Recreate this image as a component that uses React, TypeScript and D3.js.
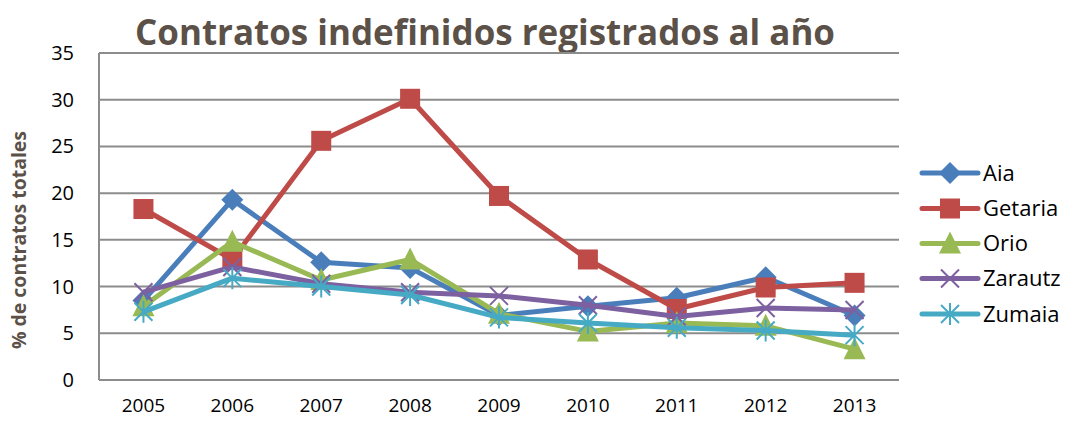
import React from 'react'
import * as d3 from 'd3'

const years = ['2005', '2006', '2007', '2008', '2009', '2010', '2011', '2012', '2013']
const aia = [8.5, 19.3, 12.6, 12.0, 6.9, 7.9, 8.8, 11.0, 6.9]
const getaria = [18.3, 12.9, 25.6, 30.1, 19.7, 12.9, 7.6, 9.9, 10.4]
const orio = [7.9, 14.8, 10.7, 12.9, 7.1, 5.2, 6.1, 5.8, 3.3]
const zarautz = [9.4, 12.1, 10.3, 9.4, 9.0, 8.0, 6.8, 7.7, 7.5]
const zumaia = [7.3, 10.9, 10.0, 9.1, 6.7, 6.1, 5.6, 5.3, 4.8]
const yTicks = [0, 5, 10, 15, 20, 25, 30, 35]

const series = [
  { name: 'Aia', values: aia, color: '#4a7ebb', marker: 'diamond' },
  { name: 'Getaria', values: getaria, color: '#be4b48', marker: 'square' },
  { name: 'Orio', values: orio, color: '#98b954', marker: 'triangle' },
  { name: 'Zarautz', values: zarautz, color: '#7d60a0', marker: 'x' },
  { name: 'Zumaia', values: zumaia, color: '#46aac5', marker: 'star' },
]

const W = 1066
const H = 422
const plot = { left: 99, right: 899, top: 53, bottom: 380 }

function Marker({ type, x, y, color }: { type: string; x: number; y: number; color: string }) {
  if (type === 'diamond') {
    const s = 11
    return <path d={`M${x},${y - s}L${x + s},${y}L${x},${y + s}L${x - s},${y}Z`} fill={color} />
  }
  if (type === 'square') {
    const s = 10
    return <rect x={x - s} y={y - s} width={2 * s} height={2 * s} fill={color} />
  }
  if (type === 'triangle') {
    const s = 11
    return <path d={`M${x},${y - s - 1}L${x + s},${y + s - 1}L${x - s},${y + s - 1}Z`} fill={color} />
  }
  if (type === 'x') {
    const s = 9
    return (
      <path d={`M${x - s},${y - s}L${x + s},${y + s}M${x - s},${y + s}L${x + s},${y - s}`}
        stroke={color} strokeWidth={2} />
    )
  }
  // asterisk
  const s = 9
  return (
    <path
      d={`M${x - s},${y - s}L${x + s},${y + s}M${x - s},${y + s}L${x + s},${y - s}M${x},${y - s - 2}L${x},${y + s + 2}`}
      stroke={color} strokeWidth={2} />
  )
}

export default function App() {
  const x = d3.scalePoint<string>().domain(years).range([plot.left, plot.right]).padding(0.5)
  const y = d3.scaleLinear().domain([0, 35]).range([plot.bottom, plot.top])

  const lineGen = d3.line<number>()
    .x((_, i) => x(years[i])!)
    .y(v => y(v))

  const legendY = [173, 208.5, 243.5, 278.5, 314]

  return (
    <svg width={W} height={H} style={{ position: 'absolute', left: 0, top: 0, background: '#fff' }}
      fontFamily="Open Sans, sans-serif">
      <rect width={W} height={H} fill="#fff" />
      <text x={485} y={45} textAnchor="middle" fontSize={36} fontWeight="bold" fill="#5b5148"
        textLength={700} lengthAdjust="spacingAndGlyphs">
        Contratos indefinidos registrados al año
      </text>

      {yTicks.map(t => (
        <g key={t}>
          <line x1={plot.left} x2={plot.right} y1={y(t)} y2={y(t)} stroke="#8c8c8c" strokeWidth={2} />
          <text x={74} y={y(t)} dy="0.35em" textAnchor="end" fontSize={20} fill="#000">{t}</text>
        </g>
      ))}
      <line x1={plot.left} x2={plot.left} y1={plot.top} y2={plot.bottom} stroke="#8c8c8c" strokeWidth={2} />

      {years.map(yr => (
        <text key={yr} x={x(yr)} y={405} dy="0.35em" textAnchor="middle" fontSize={19} fill="#000">{yr}</text>
      ))}

      <text transform="translate(26,240) rotate(-90)" textAnchor="middle" fontSize={20} fontWeight="bold"
        fill="#5b5148" textLength={218} lengthAdjust="spacingAndGlyphs">% de contratos totales</text>

      {series.map(s => (
        <g key={s.name}>
          <path d={lineGen(s.values)!} fill="none" stroke={s.color} strokeWidth={5} strokeLinejoin="round" />
          {s.values.map((v, i) => (
            <Marker key={i} type={s.marker} x={x(years[i])!} y={y(v)} color={s.color} />
          ))}
        </g>
      ))}

      {series.map((s, i) => (
        <g key={s.name}>
          <line x1={922} x2={978} y1={legendY[i]} y2={legendY[i]} stroke={s.color} strokeWidth={5} strokeLinecap="round" />
          <Marker type={s.marker} x={950} y={legendY[i]} color={s.color} />
          <text x={983} y={legendY[i]} dy="0.35em" fontSize={22} fill="#000">{s.name}</text>
        </g>
      ))}
    </svg>
  )
}
